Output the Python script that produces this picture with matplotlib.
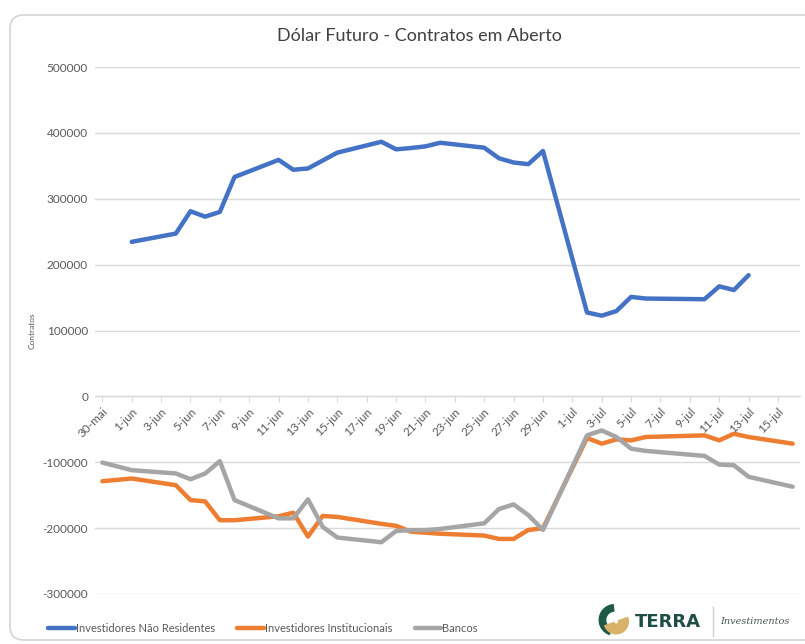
import pandas as pd
import matplotlib.pyplot as plt
from matplotlib.patches import FancyBboxPatch, Wedge
from matplotlib.lines import Line2D
from matplotlib.transforms import IdentityTransform

plt.rcParams['font.family'] = ['Lato', 'DejaVu Sans']

# Dates (trading days) and open interest per investor group
dates_nr = ['2018-06-01', '2018-06-04', '2018-06-05', '2018-06-06', '2018-06-07', '2018-06-08',
            '2018-06-11', '2018-06-12', '2018-06-13', '2018-06-14', '2018-06-15',
            '2018-06-18', '2018-06-19', '2018-06-20', '2018-06-21', '2018-06-22',
            '2018-06-25', '2018-06-26', '2018-06-27', '2018-06-28', '2018-06-29',
            '2018-07-02', '2018-07-03', '2018-07-04', '2018-07-05', '2018-07-06',
            '2018-07-10', '2018-07-11', '2018-07-12', '2018-07-13']
nao_residentes = [234600, 247100, 281000, 272800, 280000, 333000,
                  359000, 344000, 346000, 358000, 370000,
                  386500, 375000, 377000, 379500, 385000,
                  377500, 361500, 355000, 352500, 372500,
                  127300, 122500, 129500, 151000, 148500,
                  147500, 167000, 161500, 184000]

dates_other = ['2018-05-30', '2018-06-01', '2018-06-04', '2018-06-05', '2018-06-06', '2018-06-07',
               '2018-06-08', '2018-06-11', '2018-06-12', '2018-06-13', '2018-06-14', '2018-06-15',
               '2018-06-18', '2018-06-19', '2018-06-20', '2018-06-21', '2018-06-22',
               '2018-06-25', '2018-06-26', '2018-06-27', '2018-06-28', '2018-06-29',
               '2018-07-02', '2018-07-03', '2018-07-04', '2018-07-05', '2018-07-06',
               '2018-07-10', '2018-07-11', '2018-07-12', '2018-07-13', '2018-07-16']
institucionais = [-128800, -124700, -134800, -157400, -159500, -188000,
                  -188000, -182000, -176600, -212800, -181500, -183000,
                  -193500, -196500, -205300, -207000, -208500,
                  -211300, -216400, -216400, -202800, -200300,
                  -63200, -71800, -65300, -66800, -61700,
                  -59200, -66800, -56700, -61700, -71800]
bancos = [-100500, -112000, -117000, -125800, -117100, -98400,
          -157400, -185200, -185200, -156400, -198000, -214300,
          -221400, -204300, -203000, -203000, -201300,
          -192700, -171100, -164000, -180200, -202800,
          -59200, -51700, -61700, -79400, -82800,
          -90400, -103500, -104600, -122100, -137200]

meses = {5: 'mai', 6: 'jun', 7: 'jul'}

x_nr = pd.to_datetime(dates_nr)
x_ot = pd.to_datetime(dates_other)

fig = plt.figure(figsize=(8.05, 6.44), dpi=100)

# card border (pixel coordinates)
card = FancyBboxPatch((10, 4), 830, 625, boxstyle='round,pad=0,rounding_size=14',
                      transform=IdentityTransform(), facecolor='none',
                      edgecolor='#d4d4d4', linewidth=1.2, zorder=-1)
fig.patches.append(card)

ax = fig.add_axes([95 / 805, 1 - 594 / 644, 705 / 805, 527 / 644])
ax.set_facecolor('none')

ax.plot(x_nr, nao_residentes, color='#4472C4', lw=3.2, solid_capstyle='round',
        label='Investidores Não Residentes', zorder=3)
ax.plot(x_ot, institucionais, color='#ED7D31', lw=3.2, solid_capstyle='round',
        label='Investidores Institucionais', zorder=3)
ax.plot(x_ot, bancos, color='#A5A5A5', lw=3.2, solid_capstyle='round',
        label='Bancos', zorder=3)

# spines first: moving a spine resets the ticks
for s in ['top', 'right', 'left']:
    ax.spines[s].set_visible(False)
ax.spines['bottom'].set_position(('data', 0))
ax.spines['bottom'].set_color('#d9d9d9')

start = pd.Timestamp('2018-05-30')
end = pd.Timestamp('2018-07-16')
ax.set_xlim(start - pd.Timedelta(hours=12), end + pd.Timedelta(hours=12))
ax.set_ylim(-300000, 500000)

ticks = pd.date_range(start, end, freq='2D')
ax.set_xticks(ticks)
ax.set_xticklabels([f'{d.day}-{meses[d.month]}' for d in ticks], rotation=45,
                   ha='right', va='top', rotation_mode='anchor', fontsize=8.5, color='#595959')
ax.set_yticks(range(-300000, 500001, 100000))
ax.set_yticklabels([str(v) for v in range(-300000, 500001, 100000)], fontsize=8.5, color='#595959')

ax.tick_params(axis='x', length=4, color='#d9d9d9', pad=3)
ax.tick_params(axis='y', length=0, pad=5)
ax.grid(axis='y', color='#d9d9d9', lw=1)
ax.set_axisbelow(True)

ax.set_ylabel('Contratos', fontsize=6, color='#595959', labelpad=5)

fig.text(419 / 805, 1 - 36 / 644, 'Dólar Futuro - Contratos em Aberto',
         ha='center', va='center', fontsize=13, color='#404040')

handles, labels = ax.get_legend_handles_labels()
fig.legend(handles, labels, loc='center left', bbox_to_anchor=(38 / 805, 1 - 628 / 644),
           ncol=3, frameon=False, fontsize=8, labelcolor='#595959',
           handlelength=2.4, handletextpad=0.1, columnspacing=2.0)

# logo
lax = fig.add_axes([597 / 805, 1 - 636 / 644, 32 / 805, 32 / 644])
lax.set_xlim(0, 1)
lax.set_ylim(0, 1)
lax.set_aspect('equal')
lax.axis('off')
lax.add_patch(Wedge((0.55, 0.5), 0.48, 95, 250, width=0.2, color='#1f5a47'))
lax.add_patch(Wedge((0.6, 0.45), 0.38, 200, 20, width=0.3, color='#d9b26a'))

fig.text(635 / 805, 1 - 622 / 644, 'TERRA', fontsize=13, fontweight='bold',
         color='#1f4e46', family='DejaVu Sans', ha='left', va='center')
fig.add_artist(Line2D([713 / 805, 713 / 805], [1 - 636 / 644, 1 - 607 / 644],
                      color='#cfcfcf', lw=1))
fig.text(720 / 805, 1 - 622 / 644, 'Investimentos', fontsize=7, style='italic',
         color='#4a5a55', family='DejaVu Serif', ha='left', va='center')

fig.savefig('out.png', dpi=100)
